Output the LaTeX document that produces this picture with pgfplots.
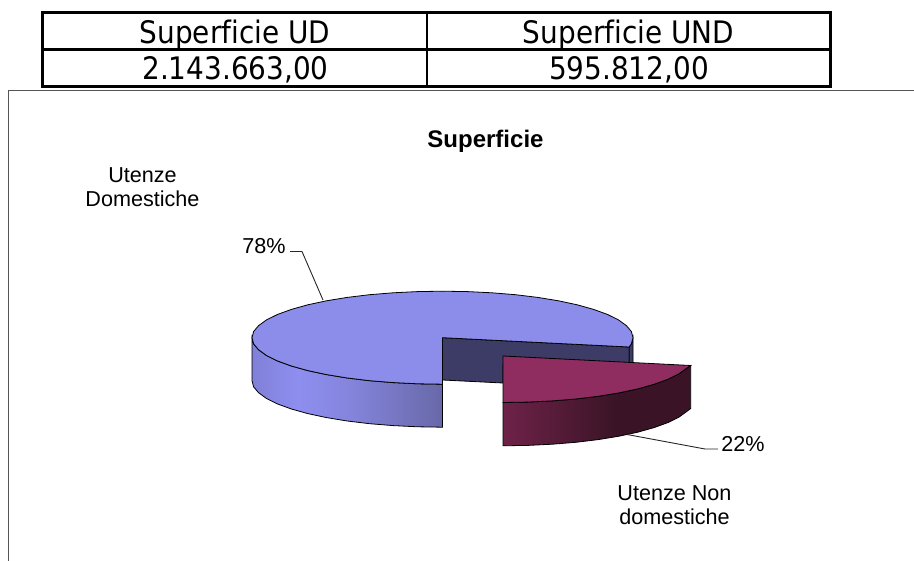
\documentclass[border=0pt]{standalone}
\usepackage{fontspec}
\setmainfont{Liberation Sans}[Ligatures=NoCommon]
\newfontfamily\tabfont{DejaVu Sans Condensed}[Ligatures=NoCommon]
\usepackage{pgfplots}
\pgfplotsset{compat=1.18}

\definecolor{bluetop}{HTML}{8C8CEB}
\definecolor{bluedark}{HTML}{3C3C66}
\definecolor{redtop}{HTML}{8F2C60}
\definecolor{frameline}{HTML}{555555}
\definecolor{bw1}{HTML}{8080D8}
\definecolor{bw2}{HTML}{8E8EF0}
\definecolor{bw3}{HTML}{8585DE}
\definecolor{bw4}{HTML}{6868A8}
\definecolor{rw1}{HTML}{6E2248}
\definecolor{rw2}{HTML}{3A1426}

% side walls of the pie: the path is fitted in 25bp..75bp
\pgfdeclarehorizontalshading{bluewall}{100bp}{
  color(0bp)=(bw1);color(25bp)=(bw1);color(37bp)=(bw2);
  color(50bp)=(bw3);color(75bp)=(bw4);color(100bp)=(bw4)}
\pgfdeclarehorizontalshading{redwall}{100bp}{
  color(0bp)=(rw1);color(25bp)=(rw1);color(55bp)=(rw2);
  color(100bp)=(rw2)}

\begin{document}
\begin{tikzpicture}
\begin{axis}[
    width=914pt, height=561pt, scale only axis,
    xmin=0, xmax=914, ymin=0, ymax=561,
    y dir=reverse,
    hide axis,
    clip=true,
    every axis plot/.append style={mark=none},
]
% outer frame of the chart
\addplot[white, line width=0pt] coordinates {(0,0) (914,561)};
\addplot[frameline, line width=1pt] coordinates {(914,91) (8,91) (8,561)};

% blue slice, side wall
\addplot[shading=bluewall, draw=black, line width=0.8pt] coordinates {
  (252,337.7) (253.6,343.8) (258.5,349.7) (266.5,355.5) (277.5,360.95) (291.4,366)
  (307.8,370.6) (326.5,374.6) (347.25,378) (369.6,380.7) (393.2,382.6) (417.6,383.8)
  (442.5,384.2) (442.5,427.2) (417.6,426.8) (393.2,425.6) (369.6,423.7) (347.25,421)
  (326.5,417.6) (307.8,413.6) (291.4,409) (277.5,403.95) (266.5,398.5) (258.5,392.7)
  (253.6,386.8) (252,380.7)} -- cycle;
% blue slice, inner wall
\addplot[fill=bluedark, draw=black, line width=0.8pt] coordinates {
  (442.5,337.7) (629.2,347) (629.2,365) (503,365) (503,383) (442.5,380)} -- cycle;
\addplot[fill=bluedark, draw=black, line width=0.8pt] coordinates {
  (629.2,347) (631.4,343.8) (633,337.7) (633,365) (629.2,365)} -- cycle;
% blue slice, top
\addplot[fill=bluetop, draw=black, line width=0.8pt] coordinates {
  (442.5,337.7) (629.2,347) (631.4,343.8) (633,337.7) (631.4,331.6) (626.5,325.7)
  (618.5,319.9) (607.5,314.45) (593.6,309.4) (577.2,304.8) (558.5,300.8) (537.75,297.4)
  (515.4,294.7) (491.8,292.8) (467.4,291.6) (442.5,291.2) (417.6,291.6) (393.2,292.8)
  (369.6,294.7) (347.25,297.4) (326.5,300.8) (307.8,304.8) (291.4,309.4) (277.5,314.45)
  (266.5,319.9) (258.5,325.7) (253.6,331.6) (252,337.7) (253.6,343.8) (258.5,349.7)
  (266.5,355.5) (277.5,360.95) (291.4,366) (307.8,370.6) (326.5,374.6) (347.25,378)
  (369.6,380.7) (393.2,382.6) (417.6,383.8) (442.5,384.2)} -- cycle;

% red slice, side wall
\addplot[shading=redwall, draw=black, line width=0.8pt] coordinates {
  (690.7,365.5) (687,368) (679,373.8) (668,379.25) (654.1,384.3) (637.7,388.9)
  (619,392.9) (598.25,396.3) (575.9,399) (552.3,400.9) (527.9,402.1) (503,402.5)
  (503,445.8) (527.9,445.4) (552.3,444.2) (575.9,442.3) (598.25,439.6) (619,436.2)
  (637.7,432.2) (654.1,427.6) (668,422.55) (679,417.1) (687,411.3) (690.7,408.5)} -- cycle;
% red slice, top
\addplot[fill=redtop, draw=black, line width=0.8pt] coordinates {
  (503,356) (690.7,365.5) (687,368) (679,373.8) (668,379.25) (654.1,384.3) (637.7,388.9)
  (619,392.9) (598.25,396.3) (575.9,399) (552.3,400.9) (527.9,402.1) (503,402.5)} -- cycle;

% leader lines
\addplot[black!85, line width=0.9pt] coordinates {(290,251.5) (302,251.5) (323,300)};
\addplot[black!85, line width=0.9pt] coordinates {(627,434.5) (705,449) (718,449)};

% table above the chart
\addplot[black, line width=3pt] coordinates {(42.3,13) (830,13) (830,87) (42.3,87)} -- cycle;
\addplot[black, line width=2.6pt] coordinates {(42.3,49.5) (830,49.5)};
\addplot[black, line width=2.6pt] coordinates {(427,13) (427,87)};

\node[font=\tabfont\fontsize{31}{31}\selectfont] at (axis cs:235,34.5) {Superficie UD};
\node[font=\tabfont\fontsize{31}{31}\selectfont] at (axis cs:628.5,34.5) {Superficie UND};
\node[font=\tabfont\fontsize{31}{31}\selectfont] at (axis cs:235.5,70) {2.143.663,00};
\node[font=\tabfont\fontsize{31}{31}\selectfont] at (axis cs:629,70) {595.812,00};

\node[font=\fontsize{24}{24}\selectfont\bfseries] at (axis cs:485.5,141.5) {Superficie};
\node[font=\fontsize{21.6}{24}\selectfont, align=center] at (axis cs:142.5,187) {Utenze\\Domestiche};
\node[font=\fontsize{21.6}{24}\selectfont, align=center] at (axis cs:674.5,505) {Utenze Non\\domestiche};
\node[font=\fontsize{21.6}{24}\selectfont] at (axis cs:264,246) {78\%};
\node[font=\fontsize{21.6}{24}\selectfont] at (axis cs:743,444) {22\%};
\end{axis}
\end{tikzpicture}
\end{document}
